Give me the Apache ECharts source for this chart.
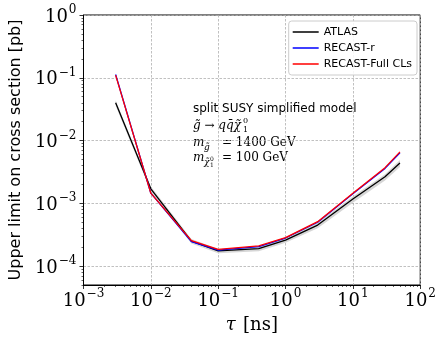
<!DOCTYPE html>
<html>
<head>
<meta charset="utf-8">
<script src="https://cdn.jsdelivr.net/npm/echarts@6/dist/echarts.min.js"></script>
<style>
  html, body { margin: 0; padding: 0; background: #fff; }
  #chart { width: 439px; height: 340px; }
</style>
</head>
<body>
<div id="chart"></div>
<script>
// lifetime tau [ns]
const tau = [0.003, 0.01, 0.04, 0.1, 0.4, 1, 3, 10, 30, 50];
// upper limits [pb]
const atlas = [0.04, 1.7e-3, 2.5e-4, 1.75e-4, 1.9e-4, 2.6e-4, 4.5e-4, 1.17e-3, 2.65e-3, 4.4e-3];
const atlasLow = [0.036, 1.55e-3, 2.3e-4, 1.6e-4, 1.72e-4, 2.35e-4, 4.0e-4, 1.02e-3, 2.3e-3, 3.8e-3];
const atlasHigh = [0.044, 1.85e-3, 2.7e-4, 1.88e-4, 2.05e-4, 2.8e-4, 4.9e-4, 1.28e-3, 2.9e-3, 4.9e-3];
const recastR = [0.113, 1.45e-3, 2.45e-4, 1.8e-4, 2.05e-4, 2.8e-4, 5.0e-4, 1.42e-3, 3.6e-3, 6.4e-3];
const recastFull = [0.11, 1.45e-3, 2.55e-4, 1.85e-4, 2.1e-4, 2.85e-4, 5.1e-4, 1.45e-3, 3.7e-3, 6.6e-3];

// axes (decades)
const xTickExp = [-3, -2, -1, 0, 1, 2];
const yTickExp = [-4, -3, -2, -1, 0];
const yBottom = 5e-5;

const lg = Math.log10;
const pts = (ys) => tau.map((t, i) => [lg(t), lg(ys[i])]);
const bandRows = tau.map((t, i) => [lg(t), lg(atlasLow[i]), lg(atlasHigh[i])]);

// minor ticks at 2..9 x 10^n
const xMinor = [];
for (let e = -3; e < 2; e++) for (let k = 2; k <= 9; k++) xMinor.push(lg(k * Math.pow(10, e)));
const yMinor = [];
for (let e = -5; e < 0; e++) for (let k = 2; k <= 9; k++) {
  const v = k * Math.pow(10, e);
  if (v >= yBottom) yMinor.push(lg(v));
}

const pow10 = (e) => '{b|10}{s|' + (e < 0 ? '\u2212' + (-e) : e) + '}';
const tickRich = {
  b: { fontFamily: 'DejaVu Serif', fontSize: 18, color: '#000', lineHeight: 22, verticalAlign: 'bottom' },
  s: { fontFamily: 'DejaVu Serif', fontSize: 12, color: '#000', lineHeight: 22, verticalAlign: 'top', padding: [0, 0, 0, 1] },
};
const gridLine = { show: true, lineStyle: { color: '#b0b0b0', type: [2.5, 1.5], width: 0.8 } };
const axisLine = { show: true, onZero: false, lineStyle: { color: '#000', width: 1 } };
// thin horizontal stroke as legend icon (corner dots keep the box size)
const lineIcon = 'path://M0,0H0.01V0.01H0Z M0,5.2H26V6.8H0Z M25.99,11.99H26V12H25.99Z';

const chart = echarts.init(document.getElementById('chart'), null, { renderer: 'canvas' });

chart.setOption({
  animation: false,
  grid: { left: 83, right: 16, top: 15, bottom: 55, show: true, borderColor: '#000', borderWidth: 1 },
  legend: {
    data: ['ATLAS', 'RECAST-r', 'RECAST-Full CLs'],
    orient: 'vertical',
    right: 22,
    top: 21,
    icon: lineIcon,
    itemWidth: 26,
    itemHeight: 12,
    itemGap: 4,
    itemTextGap: 9,
    padding: [5, 5, 5, 4],
    backgroundColor: 'rgba(255,255,255,0.85)',
    borderColor: '#cccccc',
    borderWidth: 1,
    borderRadius: 3,
    textStyle: { fontFamily: 'DejaVu Sans', fontSize: 11, color: '#000' },
  },
  xAxis: [
    {
      type: 'value',
      min: -3,
      max: 2,
      interval: 1,
      axisLine,
      axisTick: { length: 4, lineStyle: { color: '#000', width: 0.8 } },
      splitLine: gridLine,
      axisLabel: { formatter: (v) => pow10(v), rich: tickRich, margin: 3 },
      name: '{i|\u03c4} {r|[ns]}',
      nameLocation: 'middle',
      nameGap: 31,
      nameTextStyle: {
        rich: {
          i: { fontFamily: 'DejaVu Serif', fontStyle: 'italic', fontSize: 18, color: '#000', padding: [0, 4, 0, 0] },
          r: { fontFamily: 'DejaVu Serif', fontSize: 18, color: '#000' },
        },
      },
    },
    {
      type: 'value',
      min: -3,
      max: 2,
      position: 'bottom',
      axisLine: { show: false, onZero: false },
      axisLabel: { show: false },
      splitLine: { show: false },
      axisTick: { show: true, customValues: xMinor, length: 2, lineStyle: { color: '#000', width: 0.6 } },
    },
  ],
  yAxis: [
    {
      type: 'value',
      min: lg(yBottom),
      max: 0,
      axisLine,
      axisTick: { show: true, customValues: yTickExp, length: 4, lineStyle: { color: '#000', width: 0.8 } },
      splitLine: gridLine,
      axisLabel: { customValues: yTickExp, formatter: (v) => pow10(v), rich: tickRich, margin: 7 },
      name: 'Upper limit on cross section [pb]',
      nameLocation: 'middle',
      nameGap: 57,
      nameTextStyle: { fontFamily: 'DejaVu Sans', fontSize: 16, color: '#000' },
    },
    {
      type: 'value',
      min: lg(yBottom),
      max: 0,
      position: 'left',
      axisLine: { show: false, onZero: false },
      axisLabel: { show: false },
      splitLine: { show: false },
      axisTick: { show: true, customValues: yMinor, length: 2, lineStyle: { color: '#000', width: 0.6 } },
    },
  ],
  series: [
    {
      name: 'band',
      type: 'custom',
      silent: true,
      data: bandRows,
      encode: { x: 0, y: [1, 2] },
      renderItem: (params, api) => {
        if (params.dataIndex !== 0) return null;
        const upper = bandRows.map((r) => api.coord([r[0], r[2]]));
        const lower = bandRows.map((r) => api.coord([r[0], r[1]])).reverse();
        return {
          type: 'polygon',
          shape: { points: upper.concat(lower) },
          style: { fill: '#cfcfcf', opacity: 0.85 },
        };
      },
      z: 1,
    },
    {
      name: 'ATLAS',
      type: 'line',
      data: pts(atlas),
      symbol: 'none',
      lineStyle: { color: '#000', width: 1.3 },
      itemStyle: { color: '#000' },
      z: 3,
    },
    {
      name: 'RECAST-r',
      type: 'line',
      data: pts(recastR),
      symbol: 'none',
      lineStyle: { color: '#0000ff', width: 1.3 },
      itemStyle: { color: '#0000ff' },
      z: 4,
    },
    {
      name: 'RECAST-Full CLs',
      type: 'line',
      data: pts(recastFull),
      symbol: 'none',
      lineStyle: { color: '#ff0000', width: 1.3 },
      itemStyle: { color: '#ff0000' },
      z: 5,
    },
  ],
  graphic: [
    { type: 'text', left: 193, top: 103, style: { text: 'split SUSY simplified model', font: '12px "DejaVu Sans"', fill: '#000' } },
    { type: 'text', left: 193, top: 120, style: { text: 'g\u0303 \u2192 qq\u0304\u03c7\u0303', font: 'italic 12px "DejaVu Serif"', fill: '#000' } },
    { type: 'text', left: 243, top: 117, style: { text: '0', font: '8px "DejaVu Serif"', fill: '#000' } },
    { type: 'text', left: 243, top: 126, style: { text: '1', font: '8px "DejaVu Serif"', fill: '#000' } },
    { type: 'text', left: 193, top: 137, style: { text: 'm', font: 'italic 12px "DejaVu Serif"', fill: '#000' } },
    { type: 'text', left: 204, top: 143, style: { text: 'g\u0303', font: 'italic 9px "DejaVu Serif"', fill: '#000' } },
    { type: 'text', left: 222, top: 137, style: { text: '= 1400 GeV', font: '12px "DejaVu Serif"', fill: '#000' } },
    { type: 'text', left: 193, top: 152, style: { text: 'm', font: 'italic 12px "DejaVu Serif"', fill: '#000' } },
    { type: 'text', left: 204, top: 158, style: { text: '\u03c7\u0303', font: 'italic 9px "DejaVu Serif"', fill: '#000' } },
    { type: 'text', left: 210, top: 156, style: { text: '0', font: '6px "DejaVu Serif"', fill: '#000' } },
    { type: 'text', left: 210, top: 162, style: { text: '1', font: '6px "DejaVu Serif"', fill: '#000' } },
    { type: 'text', left: 222, top: 152, style: { text: '= 100 GeV', font: '12px "DejaVu Serif"', fill: '#000' } },
  ],
});
</script>
</body>
</html>
